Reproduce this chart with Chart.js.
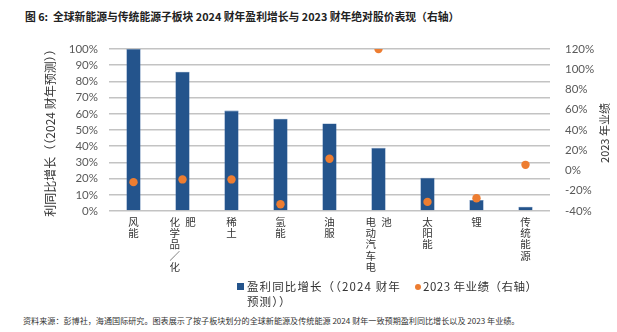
<!DOCTYPE html>
<html><head><meta charset="utf-8">
<script src="https://cdn.jsdelivr.net/npm/chart.js@4/dist/chart.umd.min.js"></script>
<style>
html,body{margin:0;padding:0;background:#fff;width:617px;height:332px;overflow:hidden;position:relative;font-family:"Noto Sans CJK SC","Noto Sans",sans-serif;}
#title{position:absolute;left:25px;top:8px;font-size:10.8px;font-weight:bold;color:#222;white-space:nowrap;}
#c{position:absolute;left:0;top:0;}
.lg{position:absolute;font-size:11.5px;color:#333;white-space:nowrap;line-height:14px;}
.sq{position:absolute;width:7px;height:7px;background:#24548C;}
.dot{position:absolute;width:6px;height:6px;border-radius:50%;background:#ED7D31;}
#foot{position:absolute;left:23px;top:315px;font-size:8.1px;color:#333;white-space:nowrap;}
</style></head><body>
<div id="title">图 6:&nbsp; 全球新能源与传统能源子板块 2024 财年盈利增长与 2023 财年绝对股价表现（右轴）</div>
<canvas id="c" width="617" height="282"></canvas>
<div class="sq" style="left:237px;top:283px"></div>
<div class="lg" style="left:247px;top:279px;letter-spacing:1.1px">盈利同比增长（（2024 财年</div>
<div class="lg" style="left:247px;top:294px;letter-spacing:1.1px">预测））</div>
<div class="dot" style="left:415px;top:284px"></div>
<div class="lg" style="left:423px;top:279px;letter-spacing:0.5px">2023 年业绩（右轴）</div>
<div id="foot">资料来源：彭博社，海通国际研究。图表展示了按子板块划分的全球新能源及传统能源 2024 财年一致预期盈利同比增长以及 2023 年业绩。</div>
<script>
const categories = ['风能','化学品／化肥','稀土','氢能','油服','电动汽车电池','太阳能','锂','传统能源'];
const growth2024 = [100, 86, 62, 57, 54, 39, 20.5, 6.8, 2.7];
const perf2023 = [-11.5, -8.8, -8.8, -33.3, 11.6, 120, -31, -27.4, 5.6];
const leftTicks = {min:0, max:100, step:10};
const rightTicks = {min:-40, max:120, step:20};

function verticalLabel(s){
  const chars = Array.from(s);
  const col1 = chars.slice(0,5), col2 = chars.slice(5);
  if(!col2.length) return col1;
  return col1.map((ch,i)=> ch + '\u2002' + (col2[i] || '\u3000'));
}

const rightTitle = {
  id:'rightTitle',
  afterDraw(chart){
    const ctx = chart.ctx;
    ctx.save();
    ctx.translate(605, 133);
    ctx.rotate(-Math.PI/2);
    ctx.font = '11px "Noto Sans CJK SC"';
    ctx.fillStyle = '#333';
    ctx.textAlign = 'center';
    ctx.textBaseline = 'middle';
    ctx.fillText('2023 年业绩', 0, 0);
    ctx.restore();
  }
};

const tickFont = {family:'Lato, "Liberation Sans", sans-serif', size:11.5};
new Chart(document.getElementById('c'), {
  data:{
    labels: categories,
    datasets:[
      {type:'line', label:'2023 年业绩（右轴）', data: perf2023, yAxisID:'y1', showLine:false,
       pointRadius:4.2, pointHoverRadius:4.2, pointBackgroundColor:'#ED7D31', pointBorderWidth:0, order:0},
      {type:'bar', label:'盈利同比增长（（2024 财年预测））', data: growth2024, yAxisID:'y',
       backgroundColor:'#24548C', borderColor:'#4A73A6', borderWidth:0.6, barPercentage:0.29, categoryPercentage:1, order:1}
    ]
  },
  options:{
    responsive:false, animation:false, devicePixelRatio:1,
    layout:{padding:{top:49, left:0, right:0, bottom:0}},
    plugins:{legend:{display:false}, tooltip:{enabled:false}, title:{display:false}},
    scales:{
      x:{
        grid:{display:false, drawTicks:false},
        border:{display:false},
        ticks:{autoSkip:false, maxRotation:0, minRotation:0, padding:5, color:'#333',
          font:{family:'"Noto Sans CJK SC"', size:10.5, lineHeight:1.08},
          callback:function(v,i){ return verticalLabel(categories[i]); }},
        afterFit(s){ s.height = 282-211; }
      },
      y:{
        position:'left', min:leftTicks.min, max:leftTicks.max,
        grid:{color:'#C3C3C3', lineWidth:1.5, drawTicks:false},
        border:{display:false},
        ticks:{autoSkip:false, stepSize:leftTicks.step, padding:11, color:'#595959', font:tickFont, callback:v=>v+'%'},
        title:{display:true, text:'利同比增长（（2024 财年预测））', color:'#333', padding:{top:43,bottom:0},
          font:{family:'"Noto Sans CJK SC"', size:12}},
        afterFit(s){ s.width = 109; }
      },
      y1:{
        position:'right', min:rightTicks.min, max:rightTicks.max,
        grid:{drawOnChartArea:false, drawTicks:false},
        border:{display:false},
        ticks:{autoSkip:false, stepSize:rightTicks.step, padding:15, color:'#595959', font:tickFont, callback:v=>v+'%'},
        afterFit(s){ s.width = 617-550; }
      }
    }
  },
  plugins:[rightTitle]
});
</script>
</body></html>
